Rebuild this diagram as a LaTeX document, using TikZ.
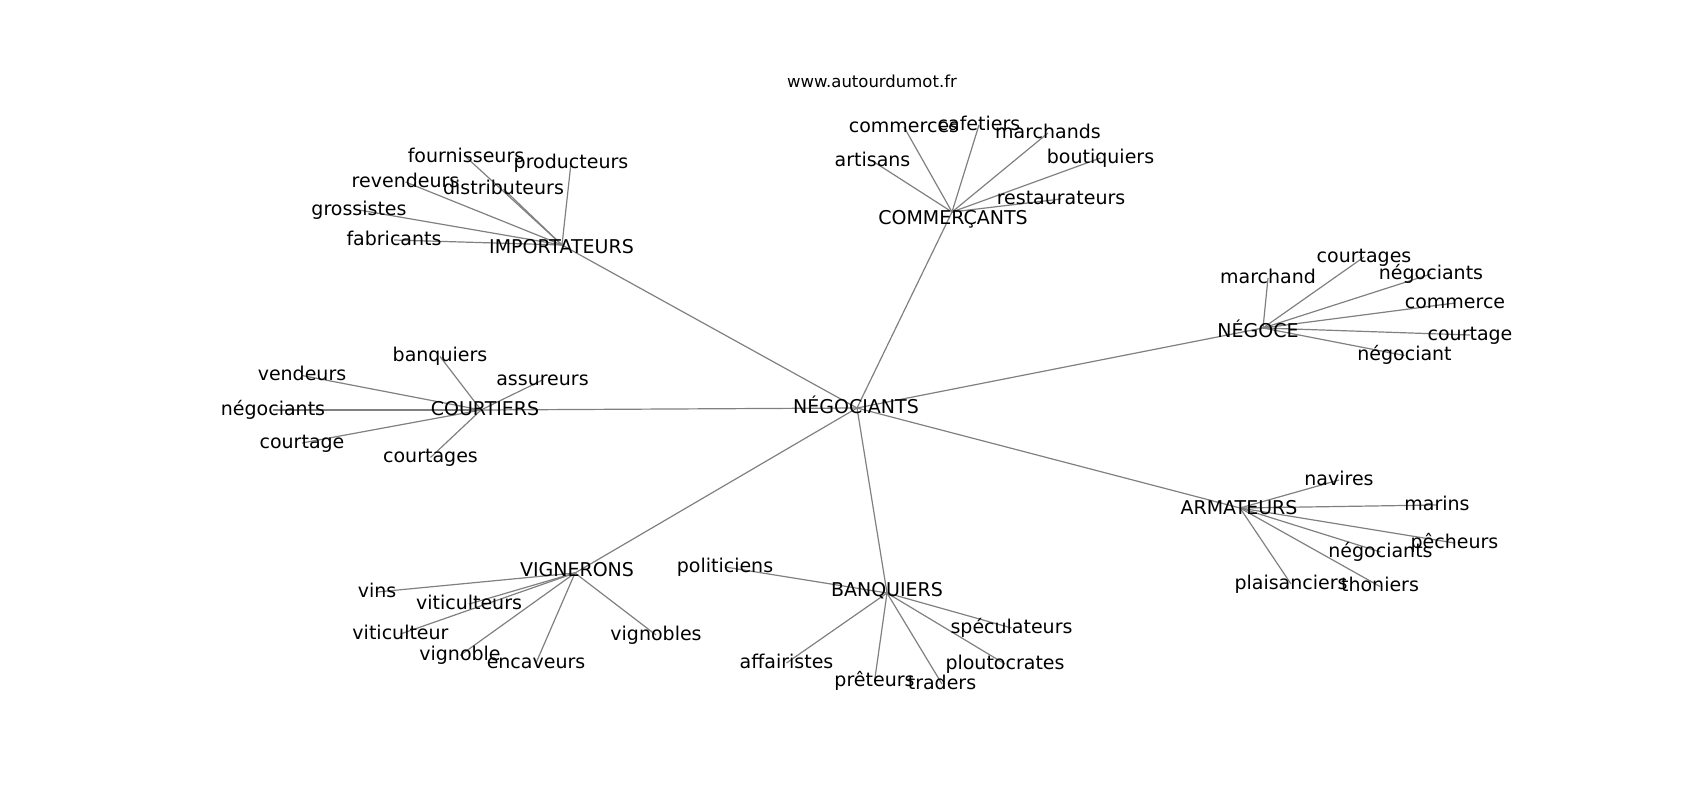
\documentclass[tikz,border=0pt]{standalone}
\usepackage{fontspec}
\setmainfont{DejaVu Sans}
\definecolor{edgegray}{RGB}{128,128,128}
\pgfdeclarelayer{bg}
\pgfsetlayers{bg,main}
\tikzset{
  lbl/.style={anchor=base, inner sep=0pt, text=black, font=\fontsize{19}{23}\selectfont},
  sitelbl/.style={anchor=base, inner sep=0pt, text=black, font=\fontsize{16.5}{19}\selectfont},
  edge/.style={draw=edgegray, line width=1.2pt},
}
\newcommand{\wrd}[4]{\coordinate (#1) at (#2,#3-5); \node[lbl] (#1t) at (#2,#3) {#4};}
\newcommand{\hubw}[6]{\coordinate (#1) at (#2,#3); \node[lbl] (#1t) at (#4,#5) {#6};}
\begin{document}
\begin{tikzpicture}[x=1pt,y=-1pt]
\useasboundingbox (0,0) rectangle (1700,800);
\node[sitelbl] (site) at (872,88) {www.autourdumot.fr};
% hubs
\hubw{neg}{857}{408}{856}{413.5}{NÉGOCIANTS}
\hubw{imp}{562}{245}{561.5}{253}{IMPORTATEURS}
\hubw{com}{952}{212}{953}{224}{COMMERÇANTS}
\hubw{ngc}{1263}{328}{1258}{337}{NÉGOCE}
\hubw{arm}{1240}{508}{1239}{514}{ARMATEURS}
\hubw{cou}{481}{410}{485}{415}{COURTIERS}
\hubw{vig}{575}{573}{577}{576}{VIGNERONS}
\hubw{ban}{887}{593}{887}{596}{BANQUIERS}
% importateurs
\wrd{fou}{466}{162}{fournisseurs}
\wrd{pro}{571}{168}{producteurs}
\wrd{rev}{405.5}{187}{revendeurs}
\wrd{dis}{503.5}{194}{distributeurs}
\wrd{gro}{359}{215}{grossistes}
\wrd{fab}{394}{245}{fabricants}
% commercants
\wrd{cms}{904}{132}{commerces}
\wrd{caf}{979}{130}{cafetiers}
\wrd{mar}{1048}{138}{marchands}
\wrd{art}{872.5}{166}{artisans}
\wrd{bou}{1100.5}{163}{boutiquiers}
\wrd{res}{1061}{204}{restaurateurs}
% negoce
\wrd{mch}{1268}{283}{marchand}
\wrd{ctg}{1364}{262}{courtages}
\wrd{ngs}{1431}{279}{négociants}
\wrd{cme}{1455}{308}{commerce}
\wrd{cge}{1470}{340}{courtage}
\wrd{nga}{1404.5}{360.5}{négociant}
% armateurs
\wrd{nav}{1339}{485}{navires}
\wrd{mrn}{1437}{510}{marins}
\wrd{pec}{1454.5}{548}{pêcheurs}
\wrd{ngx}{1380.5}{557}{négociants}
\wrd{pla}{1291}{589}{plaisanciers}
\wrd{tho}{1380}{591.5}{thoniers}
% courtiers
\wrd{bnq}{440}{361.5}{banquiers}
\wrd{ven}{302}{380.5}{vendeurs}
\wrd{ass}{542.5}{385}{assureurs}
\wrd{neo}{273}{415}{négociants}
\wrd{crt}{302}{448}{courtage}
\wrd{crs}{430.5}{462.5}{courtages}
% vignerons
\wrd{vin}{377}{597}{vins}
\wrd{vts}{469}{609}{viticulteurs}
\wrd{vit}{400.5}{639}{viticulteur}
\wrd{vgn}{460}{660.5}{vignoble}
\wrd{enc}{536}{668}{encaveurs}
\wrd{vgs}{656}{640}{vignobles}
% banquiers
\wrd{pol}{725}{572}{politiciens}
\wrd{spe}{1011.5}{633}{spéculateurs}
\wrd{aff}{786.5}{668}{affairistes}
\wrd{plo}{1005}{669}{ploutocrates}
\wrd{pre}{874.5}{686.5}{prêteurs}
\wrd{tra}{942}{689}{traders}
\begin{pgfonlayer}{bg}
\foreach \a/\b in {neg/imp,neg/com,neg/ngc,neg/arm,neg/cou,neg/vig,neg/ban,
  imp/fou,imp/pro,imp/rev,imp/dis,imp/gro,imp/fab,
  com/cms,com/caf,com/mar,com/art,com/bou,com/res,
  ngc/mch,ngc/ctg,ngc/ngs,ngc/cme,ngc/cge,ngc/nga,
  arm/nav,arm/mrn,arm/pec,arm/ngx,arm/pla,arm/tho,
  cou/bnq,cou/ven,cou/ass,cou/neo,cou/crt,cou/crs,
  vig/vin,vig/vts,vig/vit,vig/vgn,vig/enc,vig/vgs,
  ban/pol,ban/spe,ban/aff,ban/plo,ban/pre,ban/tra}
  \draw[edge] (\a) -- (\b);
\end{pgfonlayer}
\end{tikzpicture}
\end{document}
